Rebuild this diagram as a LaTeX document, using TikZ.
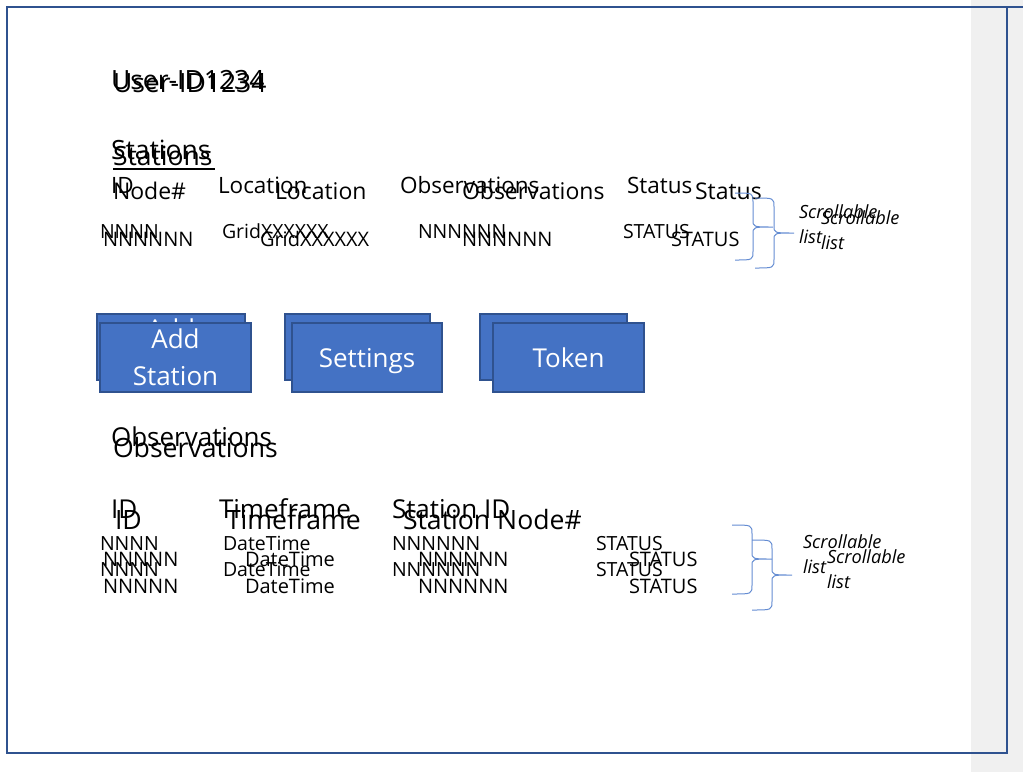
\documentclass[tikz,border=0pt]{standalone}
\usepackage{fontspec}
\setmainfont{Open Sans}
\definecolor{framec}{RGB}{47,82,143}
\definecolor{btn}{RGB}{68,114,196}
\definecolor{btnb}{RGB}{47,82,143}
\definecolor{brc}{RGB}{100,140,210}
\definecolor{band}{RGB}{240,240,240}
\newcommand\mybrace[6]{%
  \draw[bracestyle] (#1,#4) .. controls (#2,#4) .. (#2,{#4+9}) -- (#2,{#5-7})
    .. controls (#2,#5) .. (#3,#5) .. controls (#2,#5) .. (#2,{#5+7})
    -- (#2,{#6-9}) .. controls (#2,#6) .. (#1,#6);}
\tikzset{
  t/.style={anchor=base west, inner sep=0pt, outer sep=0pt, text=black},
  big/.style={t, font=\fontsize{26.5}{30}\selectfont},
  sec/.style={t, font=\fontsize{26}{30}\selectfont},
  secb/.style={t, font=\fontsize{26.6}{30}\selectfont},
  hdr/.style={t, font=\fontsize{22.5}{27}\selectfont},
  hdrb/.style={t, font=\fontsize{23}{27}\selectfont},
  dat/.style={t, font=\fontsize{19.5}{23}\selectfont},
  datb/.style={t, font=\fontsize{20}{23}\selectfont},
  scr/.style={t, font=\fontsize{18.2}{25}\selectfont\itshape, align=left},
  bracestyle/.style={draw=brc, line width=1pt},
  btnbox/.style={draw=btnb, fill=btn, line width=1.2pt, inner sep=0pt,
    text=white, font=\fontsize{26}{37}\selectfont, align=center},
  onebtn/.style={btnbox, text depth=0pt},
  framel/.style={draw=framec, line width=1.6pt}
}
\begin{document}
\begin{tikzpicture}[x=1pt,y=-1pt]
\useasboundingbox (0,0) rectangle (1023,772);
\fill[band] (971,0) rectangle (1023,772);
\draw[framel] (7,7) rectangle (1007,753);
\draw[framel] (1007,7) -- (1023,7);

% top section
\node[big] (uidA) at (111,89) {User-ID1234};
\node[big] (uidB) at (113,92) {User-ID1234};
\node[big] (stA) at (111,159) {Stations};
\node[big] (stB) at (113,165) {Stations};
\draw[line width=1.3pt] (stB.base west) ++(0,4) coordinate (ulA) -- ++(102,0) coordinate (ulB);

\node[hdr] (h1A) at (111,193) {ID};
\node[hdrb] (h1B) at (113,199) {Node\#};
\node[hdr] (h2A) at (218,193) {Location};
\node[hdrb] (h2B) at (275,199) {Location};
\node[hdr] (h3A) at (400,193) {Observations};
\node[hdrb] (h3B) at (462,199) {Observations};
\node[hdr] (h4A) at (627,193) {Status};
\node[hdrb] (h4B) at (695,199) {Status};

\node[dat] (d1A) at (100,238) {NNNN};
\node[datb] (d1B) at (103,246) {NNNNNN};
\node[dat] (d2A) at (222,238) {GridXXXXXX};
\node[datb] (d2B) at (260,246) {GridXXXXXX};
\node[dat] (d3A) at (418,238) {NNNNNN};
\node[datb] (d3B) at (462,246) {NNNNNN};
\node[dat] (d4A) at (623,238) {STATUS};
\node[datb] (d4B) at (671,246) {STATUS};

\mybrace{735}{753}{773}{193}{227}{260}
\mybrace{755}{774}{794}{198}{233}{268}
\node[scr] (s1A) at (799,243) {Scrollable\\list};
\node[scr] (s1B) at (821,249) {Scrollable\\list};

% buttons
\node[btnbox, minimum width=148pt, minimum height=66pt] (b1back) at (171,347) {Add\\Station};
\node[btnbox, minimum width=151pt, minimum height=69pt] (b1) at (175.5,357.5) {Add\\Station};
\node[onebtn, minimum width=145pt, minimum height=66pt] (b2back) at (357.5,347) {Settings};
\node[onebtn, minimum width=150pt, minimum height=69pt] (b2) at (367,357.5) {Settings};
\node[onebtn, minimum width=147pt, minimum height=66pt] (b3back) at (553.5,347) {Token};
\node[onebtn, minimum width=151pt, minimum height=69pt] (b3) at (568.5,357.5) {Token};

% observations section
\node[sec] (obA) at (111,446) {Observations};
\node[secb] (obB) at (113,457) {Observations};
\node[sec] (o1A) at (111,518) {ID};
\node[secb] (o1B) at (115,529) {ID};
\node[sec] (o2A) at (219,518) {Timeframe};
\node[secb] (o2B) at (226,529) {Timeframe};
\node[sec] (o3A) at (392,518) {Station ID};
\node[secb] (o3B) at (403,529) {Station Node\#};

\node[dat] (r1c1A) at (100,550) {NNNN};
\node[datb] (r1c1B) at (103,566) {NNNNN};
\node[dat] (r2c1A) at (100,576) {NNNN};
\node[datb] (r2c1B) at (103,593) {NNNNN};
\node[dat] (r1c2A) at (223,550) {DateTime};
\node[datb] (r1c2B) at (245,566) {DateTime};
\node[dat] (r2c2A) at (223,576) {DateTime};
\node[datb] (r2c2B) at (245,593) {DateTime};
\node[dat] (r1c3A) at (392,550) {NNNNNN};
\node[datb] (r1c3B) at (418,566) {NNNNNN};
\node[dat] (r2c3A) at (392,576) {NNNNNN};
\node[datb] (r2c3B) at (418,593) {NNNNNN};
\node[dat] (r1c4A) at (596,550) {STATUS};
\node[datb] (r1c4B) at (629,566) {STATUS};
\node[dat] (r2c4A) at (596,576) {STATUS};
\node[datb] (r2c4B) at (629,593) {STATUS};

\mybrace{732}{752}{772}{525}{559}{594}
\mybrace{752}{772}{792}{540}{575}{610}
\node[scr] (s2A) at (803,573) {Scrollable\\list};
\node[scr] (s2B) at (827,588) {Scrollable\\list};
\end{tikzpicture}
\end{document}
